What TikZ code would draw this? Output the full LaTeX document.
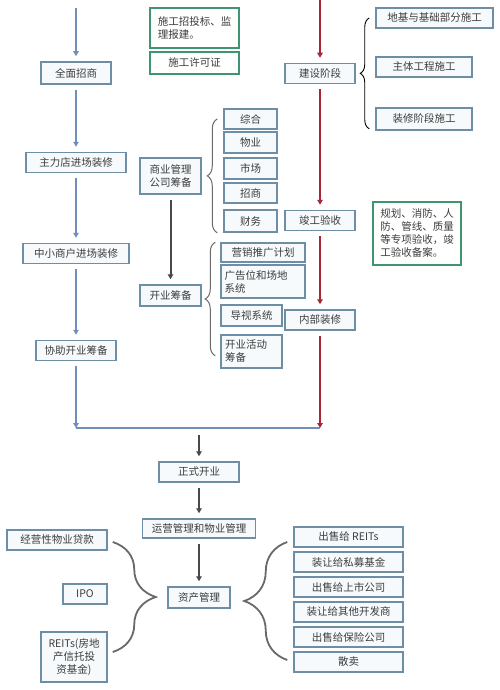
\documentclass[tikz,border=0pt]{standalone}
\usepackage{fontspec}
\setmainfont{Noto Sans CJK SC}
\usetikzlibrary{arrows.meta,positioning,calc,decorations.pathreplacing}

\definecolor{boxline}{RGB}{110,142,166}
\definecolor{boxfill}{RGB}{247,250,252}
\definecolor{gline}{RGB}{62,150,112}
\definecolor{txt}{RGB}{60,60,60}
\definecolor{arrblue}{RGB}{112,142,185}
\definecolor{arrred}{RGB}{168,38,55}
\definecolor{arrdark}{RGB}{72,72,78}
\definecolor{bracegray}{RGB}{105,105,105}

\begin{document}
\begin{tikzpicture}[
      x=1pt, y=-1pt,
      font=\fontsize{10.5}{13}\selectfont,
      box/.style={draw=boxline, line width=1.5pt, fill=boxfill, text=txt, inner sep=2pt, minimum height=20pt, align=center},
      gbox/.style={draw=gline, line width=1.7pt, fill=white, text=txt, inner sep=3pt, align=left},
      >={Triangle[length=5pt,width=5.5pt]},
      flow/.style={->, line width=2pt, shorten <=5pt, shorten >=5pt},
      bflow/.style={flow, draw=arrblue},
      rflow/.style={flow, draw=arrred},
      dflow/.style={flow, draw=arrdark},
      brc/.style={decorate, decoration={brace, amplitude=#1}},
      node distance=3.5pt
    ]
    \useasboundingbox[fill=white] (0,0) rectangle (500,690);

    % left column: leasing and fit-out
    \coordinate (ltop) at (76,8);
    \node[box, minimum width=70pt, minimum height=22pt] (qmzs) at (76,73) {全面招商};
    \node[box, minimum width=100pt] (zldzx) at (76,162.5) {主力店进场装修};
    \node[box, minimum width=106pt] (zxshzx) at (76,253.5) {中小商户进场装修};
    \node[box, minimum width=80pt] (xzkycb) at (76,350.5) {协助开业筹备};

    \draw[bflow, shorten <=0pt] (ltop) -- (qmzs);
    \draw[bflow] (qmzs) -- (zldzx);
    \draw[bflow] (zldzx) -- (zxshzx);
    \draw[bflow] (zxshzx) -- (xzkycb);

    % green notes
    \node[gbox, minimum width=89pt, minimum height=40pt] (ztb) at (194.5,28) {施工招投标、监\\理报建。};
    \node[gbox, minimum width=89pt, minimum height=22pt, align=center] (xkz) at (194.5,63) {施工许可证};
    \node[gbox, minimum width=88pt, minimum height=63pt] (ysba) at (417,233.5) {规划、消防、人\\防、管线、质量\\等专项验收，竣\\工验收备案。};

    % red column: construction
    \coordinate (rtop) at (320,0);
    \node[box, minimum width=70pt] (jsjd) at (320,73.5) {建设阶段};
    \node[box, minimum width=70pt] (jgys) at (320,220.5) {竣工验收};
    \node[box, minimum width=70pt] (nbzx) at (320,320) {内部装修};

    \draw[rflow, shorten <=0pt] (rtop) -- (jsjd);
    \draw[rflow] (jsjd) -- (jgys);
    \draw[rflow] (jgys) -- (nbzx);

    \node[box, minimum width=117pt] (djjc) at (434.5,18) {地基与基础部分施工};
    \node[box, minimum width=96pt] (ztgc) at (424,67) {主体工程施工};
    \node[box, minimum width=96pt, minimum height=22pt] (zxjd) at (424,119) {装修阶段施工};
    \draw[brc=9, line width=0.9pt, black] ($(zxjd.south west)+(-6,-2)$) -- ($(djjc.west)+(-6,0)$);

    % middle: management company and opening preparation
    \node[box, minimum width=61pt, minimum height=36pt] (sygs) at (170.5,176) {商业管理\\公司筹备};
    \node[box, minimum width=53pt] (zh) at (250.5,119) {综合};
    \node[box, minimum width=53pt, minimum height=21pt] (wy) at (250.5,142.5) {物业};
    \node[box, minimum width=53pt, minimum height=21pt] (sc) at (250.5,168.5) {市场};
    \node[box, minimum width=53pt] (zs) at (250.5,193) {招商};
    \node[box, minimum width=53pt, minimum height=22pt] (cw) at (250.5,221) {财务};
    \draw[brc=10, line width=1pt, bracegray] ($(cw.south west)+(-6,0)$) -- ($(zh.west)+(-6,0)$);

    \node[box, minimum width=61pt, minimum height=21pt] (kycb) at (170.5,295.5) {开业筹备};
    \draw[dflow] (sygs) -- (kycb);

    \node[box, minimum width=84pt, minimum height=19pt] (yxtg) at (263,252.5) {营销推广计划};
    \node[box, minimum width=84pt, minimum height=33pt, align=left, text width=77pt] (ggw) at (263,281.5) {广告位和场地\\系统};
    \node[box, minimum width=61pt, minimum height=21pt] (dssx) at (251.5,315.5) {导视系统};
    \node[box, minimum width=61pt, minimum height=33pt, align=left, text width=53pt] (hdcb) at (251.5,351.5) {开业活动\\筹备};
    \draw[brc=10, line width=1pt, bracegray] ($(hdcb.south west)+(-5,-13)$) -- ($(yxtg.north west)+(-5,0)$);

    % merge into opening
    \coordinate (lbot) at (76,428);
    \coordinate (rbot) at (320,428);
    \coordinate (mbot) at (199,428);
    \draw[bflow, shorten >=0pt, line width=1.5pt] (xzkycb) -- (lbot);
    \draw[rflow, shorten >=0pt, line width=1.5pt] (nbzx) -- (rbot);
    \draw[arrblue, line width=2.6pt] (lbot) -- (rbot);

    \node[box, minimum width=80pt] (zskg) at (199,472) {正式开业};
    \node[box, minimum width=113pt, minimum height=19pt] (yygl) at (199,528.5) {运营管理和物业管理};
    \node[box, minimum width=62pt, minimum height=21pt] (zcgl) at (199,597.5) {资产管理};
    \draw[dflow, shorten <=7pt] (mbot) -- (zskg);
    \draw[dflow] (zskg) -- (yygl);
    \draw[dflow] (yygl) -- (zcgl);

    % financing
    \node[box, minimum width=100pt] (jyx) at (57,540) {经营性物业贷款};
    \node[box, minimum width=44pt] (ipo) at (85,594) {IPO};
    \node[box, minimum width=66pt, minimum height=50pt] (reits) at (74,657) {REITs(房地\\产信托投\\资基金)};
    \draw[brc=43, line width=1.8pt, bracegray] ($(jyx.east)+(5,2)$) -- ($(reits.east)+(5,-5)$);

    % exit
    \node[box, minimum width=109pt] (cs1) at (348.5,537) {出售给 REITs};
    \node[box, minimum width=109pt, below=of cs1] (zr1) {装让给私募基金};
    \node[box, minimum width=109pt, below=of zr1] (cs2) {出售给上市公司};
    \node[box, minimum width=109pt, below=of cs2] (zr2) {装让给其他开发商};
    \node[box, minimum width=109pt, below=of zr2] (cs3) {出售给保险公司};
    \node[box, minimum width=109pt, below=of cs3] (sm) {散卖};
    \draw[brc=43, line width=1.8pt, bracegray] ($(sm.west)+(-6,-2)$) -- ($(cs1.west)+(-6,5)$);
  \end{tikzpicture}
\end{document}
